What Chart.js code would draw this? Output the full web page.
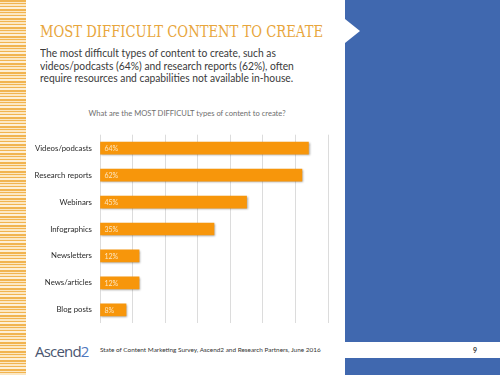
<!DOCTYPE html>
<html>
<head>
<meta charset="utf-8">
<script src="https://cdn.jsdelivr.net/npm/chart.js@4/dist/chart.umd.min.js"></script>
<style>
  html, body { margin:0; padding:0; }
  body { width:500px; height:375px; position:relative; overflow:hidden; background:#fff; font-family: Lato, "Open Sans", sans-serif; }
  #stripes { position:absolute; left:0; top:0; width:26px; height:375px;
    background: repeating-linear-gradient(180deg, #F1B450 0px, #F1B450 2px, #FCE7C2 2px, #FCE7C2 3px, #F1B450 3px, #F1B450 4px, #FCE7C2 4px, #FCE7C2 6px, #F1B450 6px, #F1B450 7px, #FDEFD6 7px, #FDEFD6 9px); }
  #blueTop { position:absolute; left:345px; top:0; width:155px; height:342px; background:#4068AF; }
  #blueBot { position:absolute; left:345px; top:358px; width:155px; height:17px; background:#4068AF; }
  #notch { position:absolute; left:345px; top:19px; width:0; height:0; border-top:12px solid transparent; border-bottom:12px solid transparent; border-left:15px solid #fff; }
  #title { position:absolute; left:40px; top:24px; font-family:"DejaVu Serif", "Liberation Serif", serif; font-size:16px; line-height:1; color:#E8A63C; white-space:nowrap; transform-origin:0 0; }
  #sub { position:absolute; left:40px; top:47px; font-size:11px; line-height:12.6px; color:#3a3a3a; white-space:nowrap; transform-origin:0 0; }
  #q { position:absolute; left:0; width:374px; top:108px; text-align:center; font-size:7.6px; color:#6f6f6f; }
  #chartWrap { position:absolute; left:20px; top:122px; width:310px; height:214px; }
  #logo { position:absolute; left:35px; top:341px; font-family:"Open Sans", sans-serif; font-size:15px; letter-spacing:-0.8px; color:#4A5670; }
  #logo span { color:#4F78BE; }
  #src { position:absolute; left:100px; top:346px; font-size:6.4px; color:#333; white-space:nowrap; }
  #pg { position:absolute; left:473px; top:346px; font-size:7px; font-weight:bold; color:#333; }
</style>
</head>
<body>
<div id="stripes"></div>
<div id="blueTop"></div>
<div id="blueBot"></div>
<div id="notch"></div>
<div id="title">MOST DIFFICULT CONTENT TO CREATE</div>
<div id="sub">The most difficult types of content to create, such as<br>videos/podcasts (64%) and research reports (62%), often<br>require resources and capabilities not available in-house.</div>
<div id="q">What are the MOST DIFFICULT types of content to create?</div>
<div id="chartWrap"><canvas id="c"></canvas></div>
<div id="logo">Ascend<span>2</span></div>
<div id="src">State of Content Marketing Survey, Ascend2 and Research Partners, June 2016</div>
<div id="pg">9</div>
<script>
const categories = ["Videos/podcasts", "Research reports", "Webinars", "Infographics", "Newsletters", "News/articles", "Blog posts"];
const values = [64, 62, 45, 35, 12, 12, 8];
const xTicks = [0, 10, 20, 30, 40, 50, 60, 70];

function fitWidth(id, w) {
  const el = document.getElementById(id);
  const cur = el.scrollWidth;
  if (cur > 0) el.style.transform = 'scaleX(' + (w / cur) + ')';
}
fitWidth('title', 283);
fitWidth('sub', 254);

const shadowPlugin = {
  id: 'shadow',
  beforeDatasetsDraw(chart) {
    const ctx = chart.ctx;
    ctx.save();
    ctx.shadowColor = 'rgba(0,0,0,0.35)';
    ctx.shadowOffsetX = 1;
    ctx.shadowOffsetY = 1;
    ctx.shadowBlur = 2;
  },
  afterDatasetsDraw(chart) {
    chart.ctx.restore();
  }
};
const labelPlugin = {
  id: 'inLabels',
  afterDatasetsDraw(chart) {
    const ctx = chart.ctx;
    const meta = chart.getDatasetMeta(0);
    ctx.save();
    ctx.fillStyle = '#FDE6C0';
    ctx.font = '7px Lato, "Open Sans", sans-serif';
    ctx.textBaseline = 'middle';
    ctx.textAlign = 'left';
    meta.data.forEach((bar, i) => {
      ctx.fillText(values[i] + '%', bar.base + 4, bar.y + 0.5);
    });
    ctx.restore();
  }
};

new Chart(document.getElementById('c'), {
  type: 'bar',
  data: {
    labels: categories,
    datasets: [{
      data: values,
      backgroundColor: '#F7960B',
      borderWidth: 0,
      barThickness: 12
    }]
  },
  options: {
    indexAxis: 'y',
    responsive: true,
    maintainAspectRatio: false,
    animation: false,
    layout: { padding: { left: 0, right: 2, top: 0, bottom: 0 } },
    plugins: { legend: { display: false }, tooltip: { enabled: false } },
    scales: {
      x: {
        min: 0, max: 70,
        afterBuildTicks(s) { s.ticks = xTicks.map(v => ({ value: v })); },
        ticks: { display: false },
        grid: { color: '#DCDCDC', lineWidth: 1, drawTicks: false },
        border: { display: false }
      },
      y: {
        afterFit(s) { s.width = 80; },
        ticks: { color: '#2a2a2a', font: { size: 7.8, family: 'Lato, "Open Sans", sans-serif' }, padding: 8 },
        grid: { display: false, drawTicks: false },
        border: { display: false }
      }
    }
  },
  plugins: [shadowPlugin, labelPlugin]
});
</script>
</body>
</html>
